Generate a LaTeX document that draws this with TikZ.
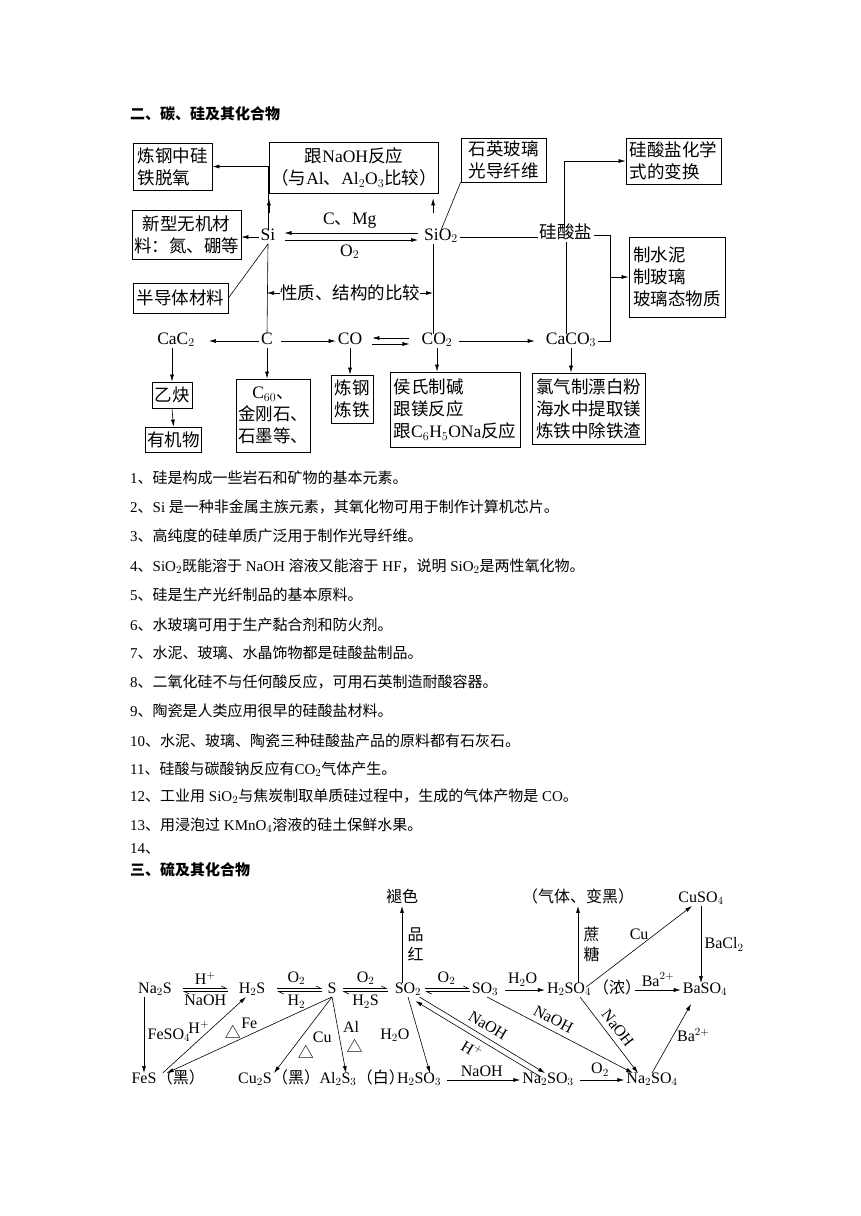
\documentclass[tikz,border=0pt]{standalone}
\usepackage{fontspec}
\setmainfont{Liberation Serif}
\newfontfamily\zhfont{Noto Sans CJK SC}
\usetikzlibrary{arrows.meta, positioning}

% CJK runs switch to the CJK font by themselves
\XeTeXinterchartokenstate=1
\newXeTeXintercharclass\zhcls
\newcount\zhc
\newcommand\setzh[2]{\zhc=#1\relax
  \loop\XeTeXcharclass\zhc=\zhcls\relax
  \ifnum\zhc<#2\relax\advance\zhc by 1\relax\repeat}
\setzh{"3000}{"303F}
\setzh{"4E00}{"9FFF}
\setzh{"FF00}{"FFEF}
\setzh{"25B3}{"25B3}
\XeTeXinterchartoks 0 \zhcls = {\zhfont}
\XeTeXinterchartoks 4095 \zhcls = {\zhfont}
\XeTeXinterchartoks \zhcls 0 = {\rmfamily}
\XeTeXinterchartoks \zhcls 4095 = {\rmfamily}

\tikzset{
  box/.style={rectangle, draw, line width=0.8pt, inner sep=2pt, align=center},
  lbox/.style={box, align=left},
  chem/.style={inner sep=2pt, text height=0.8em, text depth=0.15em},
  txt/.style={anchor=west, inner sep=0pt, text height=0.8em, text depth=0.2em},
  arr/.style={-{Latex[length=7pt,width=4pt]}, line width=0.6pt},
  rarr/.style={{Latex[length=7pt,width=4pt]}-, line width=0.6pt},
  harp/.style={-{Straight Barb[harpoon,length=5pt,width=5pt]}, line width=0.6pt},
  link/.style={line width=0.6pt},
}

\begin{document}
\begin{tikzpicture}[x=1pt, y=-1pt]
\useasboundingbox (0,0) rectangle (860,1216);

% ---- carbon and silicon ----
\node[txt, font=\fontsize{15}{18}\selectfont\bfseries] (title1) at (130,116) {二、碳、硅及其化合物};

\begin{scope}[every node/.append style={font=\fontsize{17.5}{22}\selectfont}]
\node[chem] (si) at (268,237) {Si};
\node[chem] (sio2) at (441,237) {SiO$_2$};
\node[chem] (gsy) at (566,235) {硅酸盐};
\node[chem] (c) at (267,341) {C};
\node[chem] (cac2) at (176,341) {CaC$_2$};
\node[chem] (co) at (350,341) {CO};
\node[chem] (co2) at (437,341) {CO$_2$};
\node[chem] (caco3) at (571,341) {CaCO$_3$};

\node[lbox, minimum width=79, minimum height=47] (deox) at (172.5,166.5) {炼钢中硅\\铁脱氧};
\node[box, minimum width=109, minimum height=49] (newmat) at (186.5,234.5) {新型无机材\\料：氮、硼等};
\node[box, minimum width=95, minimum height=30] (semi) at (180.5,298) {半导体材料};
\node[box, minimum width=158, minimum height=51] (naoh) at (354,167.5) {跟NaOH反应\\（与Al、Al$_2$O$_3$比较）};
\node[box, minimum width=85, minimum height=44] (quartz) at (503.5,160) {石英玻璃\\光导纤维};
\node[lbox, minimum width=95, minimum height=46] (formula) at (673.5,161) {硅酸盐化学\\式的变换};
\node[lbox, minimum width=96, minimum height=80] (cement) at (677,277) {制水泥\\制玻璃\\玻璃态物质};
\node[box, minimum width=40, minimum height=26] (acet) at (172,395) {乙炔};
\node[box, minimum width=55, minimum height=25] (organ) at (173.5,439.5) {有机物};
\node[box, minimum width=68, minimum height=73] (allo) at (273,415.5) {C$_{60}$、\\金刚石、\\石墨等、};
\node[box, minimum width=42, minimum height=48] (steel) at (352,399) {炼钢\\炼铁};
\node[lbox, minimum width=130, minimum height=75] (uses2) at (455,409.5) {侯氏制碱\\跟镁反应\\跟C$_6$H$_5$ONa反应};
\node[box, minimum width=113, minimum height=71] (uses3) at (588.5,408.5) {氯气制漂白粉\\海水中提取镁\\炼铁中除铁渣};

\draw[arr] (si.north) |- (deox.east);
\draw[arr] (si.west) -- (si.west -| newmat.east);
\draw[link] (si.south) -- (semi.east);
\draw[arr] ([yshift=-20pt]naoh.south west) -- ([yshift=-5pt]naoh.south west);
\draw[arr] ([xshift=-6pt,yshift=-20pt]naoh.south east) -- ([xshift=-6pt,yshift=-5pt]naoh.south east);
\draw[arr, shorten <=4pt, shorten >=7pt] ([yshift=4pt]sio2.west) -- ([yshift=4pt]si.east) node[midway, above=1pt] {C、Mg};
\draw[arr, shorten <=7pt, shorten >=4pt] ([yshift=-3pt]si.east) -- ([yshift=-3pt]sio2.west) node[midway, below=1pt] {O$_2$};
\draw[link] (sio2.north) -- (quartz.south west);
\draw[link] (sio2.east) -- (sio2.east -| gsy.west);
\draw[arr] ([xshift=-2pt]gsy.north) |- (formula.west);
\draw[link] (gsy.east) -- ++(16,0) coordinate (jn) |- (caco3.east);
\draw[arr] (jn |- cement.west) -- (cement.west);
\draw[link] (gsy.south) -- (gsy.south |- caco3.north);
\draw[link] (si.south) -- (c.north);
\draw[link] ([xshift=-8pt]sio2.south) coordinate (sl) -- (sl |- co2.north);
\node[inner sep=0pt] (cmp) at (350,293) {性质、结构的比较};
\draw[arr] (cmp.west) -- (cmp.west -| c.north);
\draw[arr] (cmp.east) -- (cmp.east -| sl);

\draw[arr, shorten >=12pt] (c.west) -- (cac2.east);
\draw[arr, shorten <=6pt] (c.east) -- (co.west);
\draw[arr, shorten <=10pt, shorten >=8pt] ([yshift=3pt]co2.west) -- ([yshift=3pt]co.east);
\draw[arr, shorten <=8pt, shorten >=10pt] ([yshift=-3pt]co.east) -- ([yshift=-3pt]co2.west);
\draw[arr, shorten <=4pt, shorten >=9pt] (co2.east) -- (caco3.west);
\draw[arr] (acet.north |- cac2.south) -- (acet.north);
\draw[arr] (acet.south) -- (organ.north);
\draw[arr] (c.south) -- (c.south |- allo.north);
\draw[arr] (co.south) -- (co.south |- steel.north);
\draw[arr] (co2.south) -- (co2.south |- uses2.north);
\draw[arr] (caco3.south) -- (caco3.south |- uses3.north);
\end{scope}

% ---- statements ----
\begin{scope}[every node/.append style={font=\fontsize{15}{18}\selectfont}]
\node[txt] (l1) at (130,480) {1、硅是构成一些岩石和矿物的基本元素。};
\node[txt] (l2) at (130,509) {2、Si 是一种非金属主族元素，其氧化物可用于制作计算机芯片。};
\node[txt] (l3) at (130,538) {3、高纯度的硅单质广泛用于制作光导纤维。};
\node[txt] (l4) at (130,568) {4、SiO$_2$既能溶于 NaOH 溶液又能溶于 HF，说明 SiO$_2$是两性氧化物。};
\node[txt] (l5) at (130,597) {5、硅是生产光纤制品的基本原料。};
\node[txt] (l6) at (130,627) {6、水玻璃可用于生产黏合剂和防火剂。};
\node[txt] (l7) at (130,655) {7、水泥、玻璃、水晶饰物都是硅酸盐制品。};
\node[txt] (l8) at (130,684) {8、二氧化硅不与任何酸反应，可用石英制造耐酸容器。};
\node[txt] (l9) at (130,713) {9、陶瓷是人类应用很早的硅酸盐材料。};
\node[txt] (l10) at (130,743) {10、水泥、玻璃、陶瓷三种硅酸盐产品的原料都有石灰石。};
\node[txt] (l11) at (130,771) {11、硅酸与碳酸钠反应有CO$_2$气体产生。};
\node[txt] (l12) at (130,798) {12、工业用 SiO$_2$与焦炭制取单质硅过程中，生成的气体产物是 CO。};
\node[txt] (l13) at (130,827) {13、用浸泡过 KMnO$_4$溶液的硅土保鲜水果。};
\node[txt] (l14) at (130,850) {14、};
\end{scope}

% ---- sulfur ----
\node[txt, font=\fontsize{15}{18}\selectfont\bfseries] (title2) at (130,872) {三、硫及其化合物};

\begin{scope}[every node/.append style={font=\fontsize{16}{20}\selectfont}]
\node[chem] (na2s) at (155,990) {Na$_2$S};
\node[chem] (h2s) at (252,990) {H$_2$S};
\node[chem] (s) at (332,990) {S};
\node[chem] (so2) at (408,990) {SO$_2$};
\node[chem] (so3) at (485,990) {SO$_3$};
\node[chem] (h2so4) at (569,990) {H$_2$SO$_4$};
\node[chem] (conc) at (617,990) {（浓）};
\node[chem] (baso4) at (705,990) {BaSO$_4$};
\node[chem] (fade) at (402,899) {褪色};
\node[chem] (gas) at (578,899) {（气体、变黑）};
\node[chem] (cuso4) at (701,899) {CuSO$_4$};
\node[chem] (fes) at (144,1080) {FeS};
\node[chem, right=-4pt of fes] (fesc) {（黑）};
\node[chem] (cu2s) at (255,1080) {Cu$_2$S};
\node[chem, right=-4pt of cu2s] (cu2sc) {（黑）};
\node[chem] (al2s3) at (338,1080) {Al$_2$S$_3$};
\node[chem, right=-4pt of al2s3] (al2s3c) {（白）};
\node[chem] (h2so3) at (419,1080) {H$_2$SO$_3$};
\node[chem] (na2so3) at (548,1080) {Na$_2$SO$_3$};
\node[chem] (na2so4) at (652,1080) {Na$_2$SO$_4$};

% equilibria along the top row
\draw[harp, shorten <=9pt, shorten >=9pt] ([yshift=1.5pt]na2s.east) -- ([yshift=1.5pt]h2s.west) node[midway, above] {H$^+$};
\draw[harp, shorten <=9pt, shorten >=9pt] ([yshift=-1.5pt]h2s.west) -- ([yshift=-1.5pt]na2s.east) node[midway, below] {NaOH};
\draw[harp, shorten <=10pt, shorten >=3pt] ([yshift=1.5pt]h2s.east) -- ([yshift=1.5pt]s.west) node[midway, above] {O$_2$};
\draw[harp, shorten <=3pt, shorten >=10pt] ([yshift=-1.5pt]s.west) -- ([yshift=-1.5pt]h2s.east) node[midway, below] {H$_2$};
\draw[harp, shorten <=4pt, shorten >=5pt] ([yshift=1.5pt]s.east) -- ([yshift=1.5pt]so2.west) node[midway, above] {O$_2$};
\draw[harp, shorten <=5pt, shorten >=4pt] ([yshift=-1.5pt]so2.west) -- ([yshift=-1.5pt]s.east) node[midway, below] {H$_2$S};
\draw[harp, shorten <=2pt] ([yshift=1.5pt]so2.east) -- ([yshift=1.5pt]so3.west) node[midway, above] {O$_2$};
\draw[harp, shorten >=2pt] ([yshift=-1.5pt]so3.west) -- ([yshift=-1.5pt]so2.east);
\draw[arr, shorten <=5pt] (so3.east) -- (h2so4.west) node[midway, above] {H$_2$O};
\draw[arr] ([xshift=-8pt]conc.east) -- (baso4.west) node[midway, above] {Ba$^{2+}$};

% upward and to copper sulfate
\draw[arr] (fade.south |- so2.north) -- (fade.south) node[midway, right=2pt, align=left] {品\\红};
\draw[arr] (gas.south |- h2so4.north) -- (gas.south) node[midway, right=2pt, align=left] {蔗\\糖};
\draw[arr] ([xshift=-7pt,yshift=-4pt]h2so4.north east) -- ([xshift=-9pt]cuso4.south) node[midway, above=3pt] {Cu};
\draw[arr] (cuso4.south) -- (cuso4.south |- baso4.north) node[midway, right] {BaCl$_2$};
\draw[arr, shorten >=8pt] (na2so4.north) -- ([xshift=-10pt]baso4.south) node[midway, right] {Ba$^{2+}$};

% left part
\draw[arr] (fes.north |- na2s.south) -- (fes.north) node[midway, right] {FeSO$_4$};
\draw[arr] ([xshift=4pt]fes.north east) -- ([xshift=-6pt]h2s.south) node[pos=.6, left] {H$^+$};
\draw[arr] (s.south) -- ([xshift=12pt]fesc.north west) node[pos=.6, above] {△} node[pos=.5, above=3pt] {Fe};
\draw[arr] (s.south) -- (cu2s.north east) node[pos=.53, right=8pt] {Cu} node[pos=.72, right=4pt] {△};
\draw[arr] (s.south) -- ([xshift=8pt]al2s3.north) node[pos=.39, right=2pt] {Al} node[pos=.64, right=2pt] {△};

% sulfites and sulfates
\draw[arr] (so2.south) -- ([xshift=11pt]h2so3.north) node[midway, left=6pt] {H$_2$O};
\draw[arr, shorten <=4pt] (h2so3.east) -- (na2so3.west) node[midway, above] {NaOH};
\draw[arr, shorten <=4pt] (na2so3.east) -- (na2so4.west) node[midway, above] {O$_2$};
\draw[arr] ([shift={(-4pt,0pt)}]so2.south east) -- ([shift={(-3pt,0pt)}]na2so3.north) node[midway, above=2pt, sloped] {NaOH};
\draw[rarr] ([shift={(-8pt,-4pt)}]so2.south east) -- ([shift={(-7pt,-4pt)}]na2so3.north) node[midway, below=2pt, sloped] {H$^+$};
\draw[arr] ([xshift=2pt]so3.south) -- ([xshift=-19pt]na2so4.north) node[pos=.42, above=2pt, sloped] {NaOH};
\draw[arr] ([xshift=11pt]h2so4.south) -- ([xshift=-14pt]na2so4.north) node[midway, above=2pt, sloped] {NaOH};
\end{scope}
\end{tikzpicture}
\end{document}
